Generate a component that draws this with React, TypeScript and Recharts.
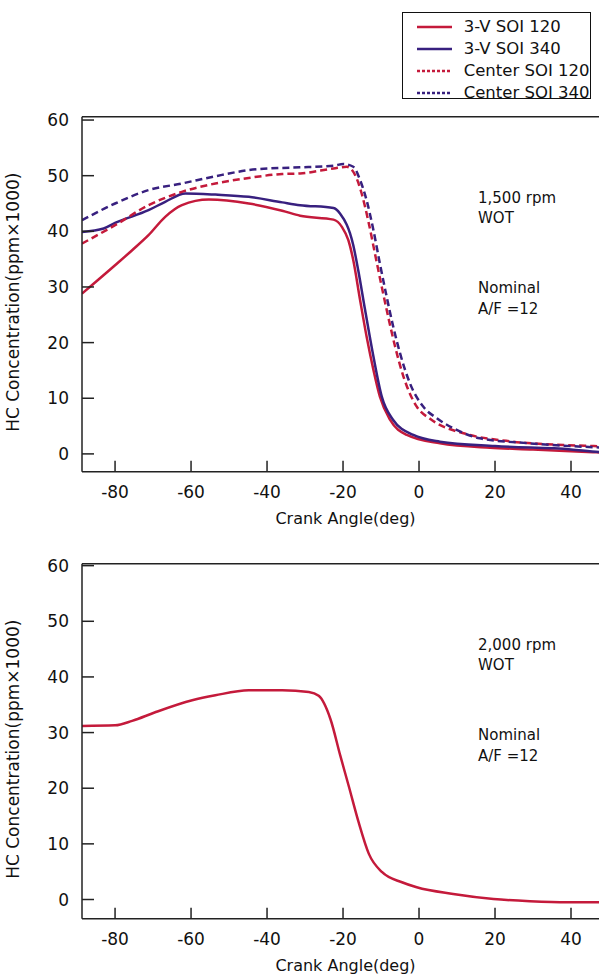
import React from "react";
import { LineChart, Line, XAxis, YAxis, Legend } from "recharts";

const RED = "#c41a3b";
const BLUE = "#38207f";
const AXIS = "#222";
const FONT = "'DejaVu Sans', sans-serif";

// 1,500 rpm WOT
const anglesV120 = [-88.7, -80, -75.5, -71.2, -66.8, -62.4, -55.3, -44.8, -36, -31.3, -22.5, -20.3, -18.6, -17.3, -15.5, -13.8, -12, -10.3, -7.6, -3.2, 5.5, 18.7, 30, 45.8, 50];
const hcV120 = [28.8, 33.9, 36.6, 39.3, 42.6, 44.7, 45.7, 45.0, 43.7, 42.8, 42.1, 40.8, 38.4, 34.8, 27.6, 21.1, 15.1, 10.3, 6.1, 3.4, 1.9, 1.1, 0.8, 0.3, 0.2];

const anglesV340 = [-88.7, -83, -80, -71.2, -66.8, -61.5, -53.6, -44.8, -36, -31.3, -22.5, -20.8, -17.3, -16, -14.2, -12, -9.8, -6.8, -1.5, 5.5, 20, 40, 47.4, 50];
const hcV340 = [39.9, 40.5, 41.5, 43.8, 45.3, 46.8, 46.6, 46.2, 45.2, 44.7, 44.2, 43.2, 37.5, 33.0, 25.9, 17.5, 10.3, 6.1, 3.4, 2.2, 1.4, 0.8, 0.35, 0.3];

const anglesC120 = [-88.7, -80, -71.2, -62.4, -53.6, -44.8, -36, -31.3, -22.5, -19, -16.8, -15.1, -13.3, -11.6, -9.8, -8.1, -6.3, -4.1, -0.6, 2.9, 4.7, 11.7, 24.8, 38, 46, 50];
const hcC120 = [37.8, 41.1, 44.7, 47.1, 48.6, 49.6, 50.3, 50.4, 51.3, 51.6, 50.1, 46.8, 41.7, 36.0, 30.0, 24.6, 19.3, 13.9, 8.5, 6.3, 5.5, 3.7, 2.2, 1.6, 1.4, 1.3];

const anglesC340 = [-88.7, -80, -71.2, -62.4, -53.6, -44.8, -36, -31.3, -22.5, -19.9, -17.3, -15.5, -13.8, -12, -10.3, -8.5, -6.8, -5, -2.4, 1.1, 4.7, 9.9, 16, 29, 46, 50];
const hcC340 = [42.0, 45.0, 47.4, 48.6, 49.9, 51.0, 51.4, 51.5, 51.8, 52.1, 51.6, 49.2, 45.6, 40.2, 34.2, 28.2, 22.9, 18.1, 12.7, 8.5, 6.4, 4.3, 2.8, 1.9, 1.2, 1.1];

// 2,000 rpm WOT
const angles2000 = [-88.7, -80, -75.5, -69.6, -59.7, -53.6, -44.8, -36, -29, -26.4, -23.3, -20.7, -18.5, -15.9, -13.2, -9.7, -4.5, -0.6, 9, 19.6, 29.2, 38.9, 46.8, 50];
const hc2000 = [31.2, 31.3, 32.1, 33.6, 35.8, 36.7, 37.6, 37.6, 37.3, 36.6, 32.4, 25.8, 20.4, 13.9, 8.2, 4.9, 3.1, 2.2, 1.0, 0.1, -0.3, -0.5, -0.5, -0.5];

const xTicks = [-80, -60, -40, -20, 0, 20, 40];
const yTicks = [0, 10, 20, 30, 40, 50, 60];
const xDomain = [-88.7, 50];

const zip = (xs: number[], ys: number[]) => xs.map((a, i) => ({ a, hc: ys[i] }));

type Series = { name: string; color: string; dash?: string; legendDash?: string; data: { a: number; hc: number }[] };

const series1500: Series[] = [
  { name: "3-V SOI 120", color: RED, data: zip(anglesV120, hcV120) },
  { name: "3-V SOI 340", color: BLUE, data: zip(anglesV340, hcV340) },
  { name: "Center SOI 120", color: RED, dash: "7 4", legendDash: "3 2", data: zip(anglesC120, hcC120) },
  { name: "Center SOI 340", color: BLUE, dash: "7 4", legendDash: "3 2", data: zip(anglesC340, hcC340) },
];

const series2000: Series[] = [{ name: "3-V SOI 120", color: RED, data: zip(angles2000, hc2000) }];

const LegendBox = () => (
  <div
    style={{
      width: 189,
      height: 87,
      boxSizing: "border-box",
      border: "1px solid #111",
      background: "#fff",
      paddingTop: 3,
      paddingLeft: 14,
      fontFamily: FONT,
      fontSize: 16.5,
      color: "#111",
    }}
  >
    {series1500.map((s) => (
      <div key={s.name} style={{ height: 22, display: "flex", alignItems: "center" }}>
        <svg width={35} height={6} style={{ marginRight: 12 }}>
          <line x1={0} y1={3} x2={35} y2={3} stroke={s.color} strokeWidth={2.5} strokeDasharray={s.legendDash} />
        </svg>
        <span>{s.name}</span>
      </div>
    ))}
  </div>
);

const Panel = ({ series, yDomain, rpm, legend }: { series: Series[]; yDomain: number[]; rpm: string; legend?: boolean }) => (
  <div style={{ position: "relative", width: 660, height: 540 }}>
    <LineChart width={660} height={540} margin={{ top: 115.7, right: 50, bottom: 8.3, left: 0 }}>
      <XAxis
        xAxisId="top"
        orientation="top"
        type="number"
        dataKey="a"
        domain={xDomain}
        ticks={xTicks}
        height={1}
        tick={false}
        tickSize={-11}
        stroke={AXIS}
        strokeWidth={1.5}
        allowDataOverflow
      />
      <XAxis
        type="number"
        dataKey="a"
        domain={xDomain}
        ticks={xTicks}
        height={60}
        tickSize={-11}
        tickMargin={25}
        stroke={AXIS}
        strokeWidth={1.5}
        tick={{ fontSize: 17, fill: "#111", fontFamily: FONT }}
        allowDataOverflow
        label={{ value: "Crank Angle(deg)", position: "insideBottom", offset: 7.7, fill: "#111", style: { fontFamily: FONT, fontSize: 16 } }}
      />
      <YAxis
        type="number"
        domain={yDomain}
        ticks={yTicks}
        width={82}
        tickSize={-12}
        tickMargin={25}
        stroke={AXIS}
        strokeWidth={1.5}
        tick={{ fontSize: 17, fill: "#111", fontFamily: FONT }}
        allowDataOverflow
        label={{
          value: "HC Concentration(ppm×1000)",
          angle: -90,
          position: "insideLeft",
          offset: 13,
          dy: 8,
          fill: "#111",
          style: { textAnchor: "middle", fontFamily: FONT, fontSize: 17 },
        }}
      />
      <YAxis
        yAxisId="right"
        orientation="right"
        type="number"
        domain={yDomain}
        ticks={yTicks}
        width={1}
        tick={false}
        tickSize={-12}
        stroke={AXIS}
        strokeWidth={1.5}
        allowDataOverflow
      />
      {/* carries the top / right frame axes */}
      <Line
        xAxisId="top"
        yAxisId="right"
        data={series[0].data}
        dataKey="hc"
        stroke="none"
        dot={false}
        activeDot={false}
        legendType="none"
        isAnimationActive={false}
      />
      {series.map((s) => (
        <Line
          key={s.name}
          data={s.data}
          dataKey="hc"
          name={s.name}
          type="monotone"
          stroke={s.color}
          strokeWidth={2.5}
          strokeDasharray={s.dash}
          dot={false}
          activeDot={false}
          isAnimationActive={false}
        />
      ))}
      {legend && (
        <Legend
          layout="vertical"
          align="center"
          verticalAlign="middle"
          wrapperStyle={{ top: 11.7, left: 401.7, width: 189 }}
          content={() => <LegendBox />}
        />
      )}
    </LineChart>
    <svg width={660} height={540} style={{ position: "absolute", left: 0, top: 0, pointerEvents: "none" }}>
      <g fontFamily="DejaVu Sans" fontSize={15} fill="#111">
        <text x={478} y={203.3}>{rpm}</text>
        <text x={478} y={223.3}>WOT</text>
        <text x={478} y={292.7}>Nominal</text>
        <text x={478} y={314}>A/F =12</text>
      </g>
    </svg>
  </div>
);

export default function App() {
  return (
    <div style={{ position: "fixed", left: 0, top: 0, width: 599, height: 974, overflow: "hidden", background: "#fff" }}>
      <div style={{ position: "absolute", left: 0, top: 0 }}>
        <Panel series={series1500} yDomain={[-3.2, 60.6]} rpm="1,500 rpm" legend />
      </div>
      <div style={{ position: "absolute", left: 0, top: 447.3 }}>
        <Panel series={series2000} yDomain={[-3.45, 60.35]} rpm="2,000 rpm" />
      </div>
    </div>
  );
}
